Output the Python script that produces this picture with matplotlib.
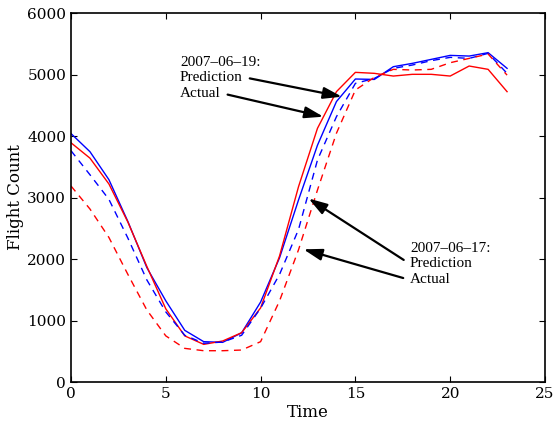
import matplotlib
matplotlib.use('Agg')
import matplotlib.pyplot as plt

hours = list(range(24))

# 2007-06-19
pred_19 = [4040, 3745, 3290, 2610, 1860, 1320, 840, 656, 645, 800, 1300, 2020,
           2960, 3850, 4560, 4927, 4920, 5127, 5181, 5246, 5311, 5300, 5355, 5100]
actual_19 = [3890, 3640, 3220, 2600, 1880, 1190, 750, 612, 667, 802, 1205, 2050,
             3176, 4125, 4721, 5035, 5019, 4975, 5003, 5003, 4975, 5138, 5084, 4721]

# 2007-06-17
pred_17 = [3761, 3370, 2970, 2340, 1660, 1140, 760, 630, 650, 760, 1200, 1750,
           2480, 3610, 4314, 4856, 4937, 5100, 5154, 5225, 5279, 5262, 5344, 5019]
actual_17 = [3187, 2813, 2350, 1750, 1171, 750, 547, 509, 509, 520, 656, 1320,
             2150, 3122, 4045, 4748, 4954, 5084, 5073, 5084, 5192, 5262, 5333, 4990]

plt.rcParams['font.family'] = 'DejaVu Serif'

fig = plt.figure(figsize=(5.56, 4.21), dpi=100)
ax = fig.add_axes([0.1277, 0.0926, 0.8525, 0.8765])

ax.plot(hours, pred_19, color='blue', lw=1.0)
ax.plot(hours, actual_19, color='red', lw=1.0)
ax.plot(hours, pred_17, color='blue', lw=1.0, ls='--', dashes=(5, 4))
ax.plot(hours, actual_17, color='red', lw=1.0, ls='--', dashes=(5, 4))

ax.set_xlim(0, 25)
ax.set_ylim(0, 6000)
ax.set_xticks(range(0, 26, 5))
ax.set_yticks(range(0, 6001, 1000))
ax.tick_params(direction='in', length=4, top=True, right=True, labelsize=11)
for s in ax.spines.values():
    s.set_linewidth(1.2)

ax.set_xlabel('Time', fontsize=12, labelpad=2)
ax.set_ylabel('Flight Count', fontsize=12, labelpad=2)

tfont = dict(family='Liberation Serif', fontsize=11)


def arrow(rx):
    return dict(arrowstyle='-|>,head_length=0.8,head_width=0.25', color='black',
                lw=1.6, shrinkA=3, shrinkB=0, mutation_scale=14,
                relpos=(rx, 0.5))


ax.text(5.75, 5203, '2007\u201306\u201319:', va='center', ha='left', **tfont)
ax.annotate('Prediction', xy=(14.29, 4639), xytext=(5.75, 4959), va='center',
            ha='left', arrowprops=arrow(1), **tfont)
ax.annotate('Actual', xy=(13.31, 4314), xytext=(5.75, 4699), va='center',
            ha='left', arrowprops=arrow(1), **tfont)

ax.text(17.88, 2163, '2007\u201306\u201317:', va='center', ha='left', **tfont)
ax.annotate('Prediction', xy=(12.53, 2984), xytext=(17.88, 1919), va='center',
            ha='left', arrowprops=arrow(0), **tfont)
ax.annotate('Actual', xy=(12.26, 2158), xytext=(17.88, 1659), va='center',
            ha='left', arrowprops=arrow(0), **tfont)

fig.savefig('out.png', dpi=100)
